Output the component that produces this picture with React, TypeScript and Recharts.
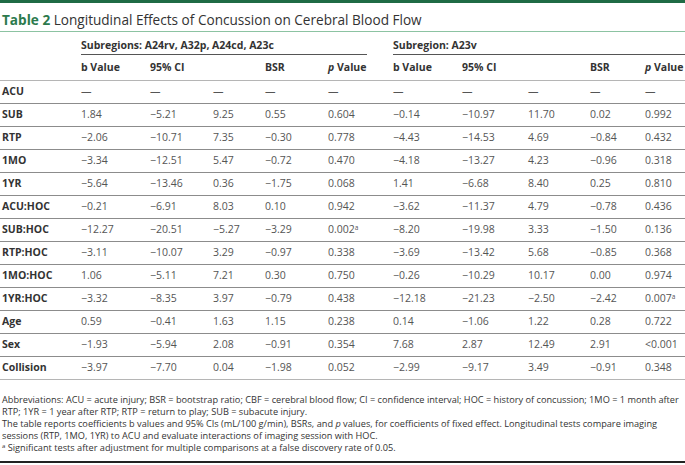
import React from 'react';
import { ScatterChart, Scatter, XAxis, YAxis, ReferenceLine } from 'recharts';

const ROW_LABELS = ['ACU', 'SUB', 'RTP', '1MO', '1YR', 'ACU:HOC', 'SUB:HOC', 'RTP:HOC', '1MO:HOC', '1YR:HOC', 'Age', 'Sex', 'Collision'];

const GROUP_TITLES = ['Subregions: A24rv, A32p, A24cd, A23c', 'Subregion: A23v'];
const COLUMN_HEADERS = ['b Value', '95% CI', '', 'BSR', 'p Value'];

// Subregions: A24rv, A32p, A24cd, A23c
const A_B = [null, 1.84, -2.06, -3.34, -5.64, -0.21, -12.27, -3.11, 1.06, -3.32, 0.59, -1.93, -3.97];
const A_CI_LOW = [null, -5.21, -10.71, -12.51, -13.46, -6.91, -20.51, -10.07, -5.11, -8.35, -0.41, -5.94, -7.7];
const A_CI_HIGH = [null, 9.25, 7.35, 5.47, 0.36, 8.03, -5.27, 3.29, 7.21, 3.97, 1.63, 2.08, 0.04];
const A_BSR = [null, 0.55, -0.3, -0.72, -1.75, 0.1, -3.29, -0.97, 0.3, -0.79, 1.15, -0.91, -1.98];
const A_P = ['—', '0.604', '0.778', '0.470', '0.068', '0.942', '0.002', '0.338', '0.750', '0.438', '0.238', '0.354', '0.052'];
const A_SIGNIFICANT = ['SUB:HOC'];

// Subregion: A23v
const B_B = [null, -0.14, -4.43, -4.18, 1.41, -3.62, -8.2, -3.69, -0.26, -12.18, 0.14, 7.68, -2.99];
const B_CI_LOW = [null, -10.97, -14.53, -13.27, -6.68, -11.37, -19.98, -13.42, -10.29, -21.23, -1.06, 2.87, -9.17];
const B_CI_HIGH = [null, 11.7, 4.69, 4.23, 8.4, 4.79, 3.33, 5.68, 10.17, -2.5, 1.22, 12.49, 3.49];
const B_BSR = [null, 0.02, -0.84, -0.96, 0.25, -0.78, -1.5, -0.85, 0.0, -2.42, 0.28, 2.91, -0.91];
const B_P = ['—', '0.992', '0.432', '0.318', '0.810', '0.436', '0.136', '0.368', '0.974', '0.007', '0.722', '<0.001', '0.348'];
const B_SIGNIFICANT = ['1YR:HOC'];

const FOOTNOTES = [
  'Abbreviations: ACU = acute injury; BSR = bootstrap ratio; CBF = cerebral blood flow; CI = confidence interval; HOC = history of concussion; 1MO = 1 month after',
  'RTP; 1YR = 1 year after RTP; RTP = return to play; SUB = subacute injury.',
];

// layout: column widths of the table, in px
const LEFT_PAD = 2;
const COL_WIDTHS = [79, 69, 63, 52, 63, 65, 69, 66, 62, 55];
const COL_X = COL_WIDTHS.reduce<number[]>((acc, w) => [...acc, acc[acc.length - 1] + w], [LEFT_PAD]);
const WIDTH = 685;

const FONT = '"Open Sans", "DejaVu Sans", sans-serif';

const fmt = (v: number | null) => (v === null ? '—' : (v < 0 ? '\u2212' : '') + Math.abs(v).toFixed(2));

const cells: any[] = [];
ROW_LABELS.forEach((label, i) => {
  const y = i + 0.5;
  const row = [
    label,
    fmt(A_B[i]), fmt(A_CI_LOW[i]), fmt(A_CI_HIGH[i]), fmt(A_BSR[i]), A_P[i],
    fmt(B_B[i]), fmt(B_CI_LOW[i]), fmt(B_CI_HIGH[i]), fmt(B_BSR[i]), B_P[i],
  ];
  row.forEach((text, c) => {
    cells.push({
      x: COL_X[c],
      y,
      text,
      bold: c === 0,
      sig: (c === 5 && A_SIGNIFICANT.includes(label)) || (c === 10 && B_SIGNIFICANT.includes(label)),
    });
  });
});

const renderCell = (props: any) => {
  const { cx, cy, payload } = props;
  return (
    <text
      x={cx}
      y={cy}
      dy="0.36em"
      fontSize={10.5}
      fontWeight={payload.bold ? 700 : 400}
      fill={payload.bold ? '#333' : '#555'}
      fontFamily={FONT}
    >
      {payload.text}
      {payload.sig && (
        <tspan dy="-0.45em" fontSize={6.5}>
          a
        </tspan>
      )}
    </text>
  );
};

const HeaderTick = (props: any) => {
  const { x, y, payload } = props;
  const c = COL_X.indexOf(payload.value);
  if (c < 1) return <g />;
  const k = (c - 1) % 5;
  const g = Math.floor((c - 1) / 5);
  const header = COLUMN_HEADERS[k];
  const groupEnd = g === 0 ? 367 : WIDTH;
  return (
    <g>
      {header.startsWith('p ') ? (
        <text x={x} y={y - 13} dy="0.36em" fontSize={10.5} fontWeight={700} fill="#333" fontFamily={FONT}>
          <tspan fontStyle="italic">p</tspan> Value
        </text>
      ) : (
        <text x={x} y={y - 13} dy="0.36em" fontSize={10.5} fontWeight={700} fill="#333" fontFamily={FONT}>
          {header}
        </text>
      )}
      {k === 0 && (
        <>
          <text x={x} y={y - 35} dy="0.36em" fontSize={10.5} fontWeight={700} fill="#333" fontFamily={FONT}>
            {GROUP_TITLES[g]}
          </text>
          <line x1={x} x2={groupEnd} y1={y - 25.5} y2={y - 25.5} stroke="#555" strokeWidth={1} />
        </>
      )}
    </g>
  );
};

export default function App() {
  return (
    <div style={{ position: 'relative', width: WIDTH, height: 465, background: '#fff', fontFamily: FONT, overflow: 'hidden' }}>
      <style>{`body{margin:0} .recharts-reference-line line{shape-rendering:crispEdges}`}</style>
      <div style={{ position: 'absolute', left: 0, top: 0, width: WIDTH, height: 3, background: '#1f6b45' }} />
      <div
        style={{
          position: 'absolute',
          left: LEFT_PAD,
          top: 11,
          height: 18,
          lineHeight: '18px',
          fontSize: 13.6,
          color: '#333',
          whiteSpace: 'nowrap',
        }}
      >
        <span style={{ fontWeight: 700, color: '#2c7a4d' }}>Table 2</span> Longitudinal Effects of Concussion on Cerebral Blood Flow
      </div>
      <div style={{ position: 'absolute', left: 0, top: 31, width: WIDTH, height: 1, background: '#8cc3a2' }} />

      <div style={{ position: 'absolute', left: 0, top: 0 }}>
        <ScatterChart width={WIDTH} height={382} margin={{ top: 33, right: 0, bottom: 3, left: 0 }}>
          <XAxis
            type="number"
            dataKey="x"
            orientation="top"
            domain={[0, WIDTH]}
            ticks={COL_X}
            interval={0}
            height={47}
            axisLine={false}
            tickLine={false}
            tickSize={0}
            tickMargin={0}
            tick={<HeaderTick />}
          />
          <YAxis type="number" dataKey="y" domain={[0, ROW_LABELS.length]} reversed hide />
          {ROW_LABELS.map((_, i) => (
            <ReferenceLine key={i} y={i} stroke={i === 0 ? '#b5b5b5' : '#8c8c8c'} strokeWidth={1} />
          ))}
          <ReferenceLine y={ROW_LABELS.length} stroke="#b5b5b5" strokeWidth={1} />
          <Scatter data={cells} shape={renderCell} isAnimationActive={false} />
        </ScatterChart>
      </div>

      <div
        style={{
          position: 'absolute',
          left: LEFT_PAD,
          top: 394,
          fontSize: 9.2,
          lineHeight: '12px',
          color: '#333',
          whiteSpace: 'nowrap',
        }}
      >
        <div>{FOOTNOTES[0]}</div>
        <div>{FOOTNOTES[1]}</div>
        <div>
          The table reports coefficients b values and 95% CIs (mL/100 g/min), BSRs, and <i>p</i> values, for coefficients of fixed
          effect. Longitudinal tests compare imaging
        </div>
        <div>sessions (RTP, 1MO, 1YR) to ACU and evaluate interactions of imaging session with HOC.</div>
        <div>
          <sup style={{ fontSize: 6, verticalAlign: 'top', lineHeight: '8px' }}>a</sup> Significant tests after adjustment for multiple
          comparisons at a false discovery rate of 0.05.
        </div>
      </div>
      <div style={{ position: 'absolute', left: 0, top: 461, width: WIDTH, height: 2, background: '#222' }} />
    </div>
  );
}
